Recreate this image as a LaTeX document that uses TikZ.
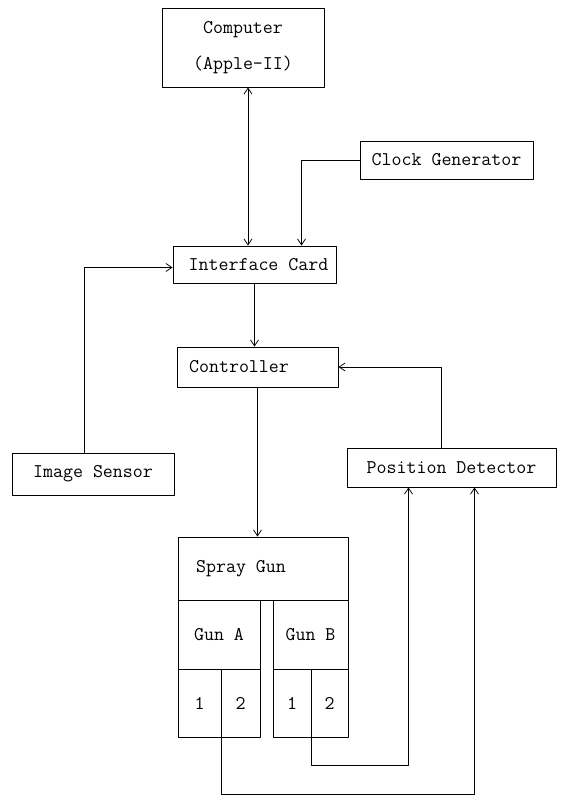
\documentclass[tikz,border=0pt]{standalone}
\usepackage{tikz}
\usetikzlibrary{arrows.meta}

\begin{document}
\begin{tikzpicture}[x=1pt,y=-1pt,>={Straight Barb[length=6pt,width=8pt]},line join=round,
  blk/.style={draw,line width=0.8pt,inner sep=0pt,font=\fontsize{19.4}{23}\selectfont\ttfamily},
  wire/.style={line width=0.8pt}]

  \useasboundingbox (0,0) rectangle (560,798);

  % 1. computer, clock and interface card
  \node[blk, minimum width=162pt, minimum height=79pt, align=center] (comp) at (243,47.5) {Computer\\[13pt](Apple-II)};
  \node[blk, minimum width=173pt, minimum height=38pt] (clock) at (446.5,160) {Clock Generator};
  \node[blk, minimum width=163pt, minimum height=37pt] (ic) at (254.5,264.5) {\kern8pt Interface Card};

  % 2. controller, sensor and detector
  \node[blk, minimum width=161pt, minimum height=40pt] (ctrl) at (257.5,367) {Controller\kern37pt};
  \node[blk, minimum width=162pt, minimum height=42pt] (img) at (93,474) {Image Sensor};
  \node[blk, minimum width=209pt, minimum height=39pt] (pd) at (451.5,467.5) {Position Detector};

  % 3. spray gun with its two guns
  \node[blk, minimum width=170pt, minimum height=63pt] (spray) at (263,568.5) {Spray Gun\kern44pt};
  \node[blk, minimum width=82pt, minimum height=69pt] (gunA) at (219,634.5) {Gun A};
  \node[blk, minimum width=75pt, minimum height=69pt] (gunB) at (310.5,634.5) {Gun B};
  \node[blk, minimum width=43pt, minimum height=68pt] (a1) at (199.5,703) {1};
  \node[blk, minimum width=39pt, minimum height=68pt] (a2) at (240.5,703) {2};
  \node[blk, minimum width=38pt, minimum height=68pt] (b1) at (292,703) {1};
  \node[blk, minimum width=37pt, minimum height=68pt] (b2) at (329.5,703) {2};

  % 4. connectors
  \draw[wire, <->] ([xshift=5pt]comp.south) -- ([xshift=5pt]comp.south |- ic.north);
  \draw[wire, ->] (clock.west) -| ([xshift=47pt]ic.north);
  \draw[wire, ->] ([xshift=-9pt]img.north) |- ([yshift=-3pt]ic.west);
  \draw[wire, ->] (ic.south) -- (ic.south |- ctrl.north);
  \draw[wire, ->] ([xshift=-10pt]pd.north) |- (ctrl.east);
  \draw[wire, ->] (ctrl.south) -- (ctrl.south |- spray.north);
  \draw[wire, ->] (b1.north east) -- ++(0,97) -| ([xshift=-43pt]pd.south);
  \draw[wire, ->] (a1.north east) -- ++(0,126) -| ([xshift=23pt]pd.south);

\end{tikzpicture}
\end{document}
